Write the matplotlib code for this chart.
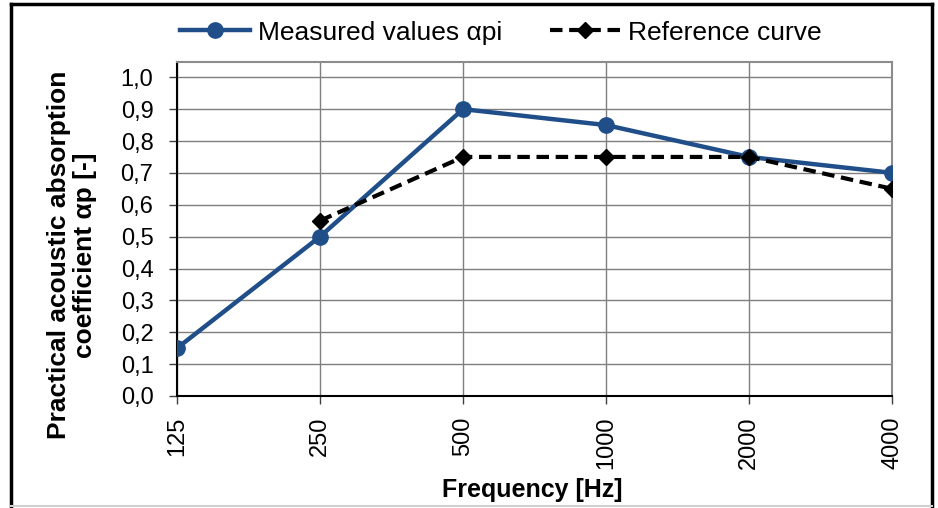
import matplotlib.pyplot as plt
from matplotlib.lines import Line2D

# data
freq_labels = ['125', '250', '500', '1000', '2000', '4000']
measured = [0.15, 0.50, 0.90, 0.85, 0.75, 0.70]
ref_labels = ['250', '500', '1000', '2000', '4000']
reference = [0.55, 0.75, 0.75, 0.75, 0.65]

plt.rcParams['font.family'] = ['Liberation Sans', 'DejaVu Sans']

fig = plt.figure(figsize=(9.38, 5.08), dpi=100)
ax = fig.add_axes([0.1887, 0.2205, 0.7625, 0.6575])

xm = [freq_labels.index(f) for f in freq_labels]
xr = [freq_labels.index(f) for f in ref_labels]

ax.plot(xm, measured, color='#1f4e89', lw=3.2, marker='o', ms=11,
        label='Measured values \u03b1pi', zorder=3)
ax.plot(xr, reference, color='black', lw=3, ls=(0, (3, 1.6)), marker='D', ms=8,
        label='Reference curve', zorder=4)

ax.set_xlim(0, 5)
ax.set_ylim(0, 1.048)
ax.set_xticks(range(len(freq_labels)))
ax.set_xticklabels(freq_labels, rotation=90, fontsize=17)
ax.set_yticks([i / 10 for i in range(11)])
ax.set_yticklabels([('%.1f' % (i / 10)).replace('.', ',') for i in range(11)], fontsize=17)
ax.grid(True, color='#7f7f7f', lw=1)
ax.set_axisbelow(True)
ax.tick_params(axis='both', direction='out', length=6, width=1, color='#404040')
ax.tick_params(axis='y', pad=11)
ax.tick_params(axis='x', pad=9)
for s in ['top', 'right']:
    ax.spines[s].set_color('#8c8c8c')
    ax.spines[s].set_linewidth(1.5)
for s in ['left', 'bottom']:
    ax.spines[s].set_color('black')
    ax.spines[s].set_linewidth(1.5)

fig.text(0.567, 0.035, 'Frequency [Hz]', fontsize=18, fontweight='bold',
         ha='center', va='center')
fig.text(0.077, 0.498, 'Practical acoustic absorption\ncoefficient \u03b1p [-]', fontsize=19,
         fontweight='bold', rotation=90, ha='center', va='center',
         multialignment='center', linespacing=1.1)

fig.legend(*ax.get_legend_handles_labels(), loc='center', bbox_to_anchor=(0.534, 0.936),
           ncol=2, frameon=False, fontsize=19, handlelength=2.65, columnspacing=1.8,
           handletextpad=0.3)

# outer frame: black left/top/right, light bottom edge
fig.add_artist(Line2D([0.012, 0.012], [0.0, 0.992], transform=fig.transFigure,
                      color='black', lw=2.5))
fig.add_artist(Line2D([0.012, 0.994], [0.992, 0.992], transform=fig.transFigure,
                      color='black', lw=2.5))
fig.add_artist(Line2D([0.994, 0.994], [0.0, 0.992], transform=fig.transFigure,
                      color='black', lw=2.5))
fig.add_artist(Line2D([0.012, 0.994], [0.004, 0.004], transform=fig.transFigure,
                      color='#d0d0d0', lw=1.5))

fig.savefig('out.png', dpi=100)
